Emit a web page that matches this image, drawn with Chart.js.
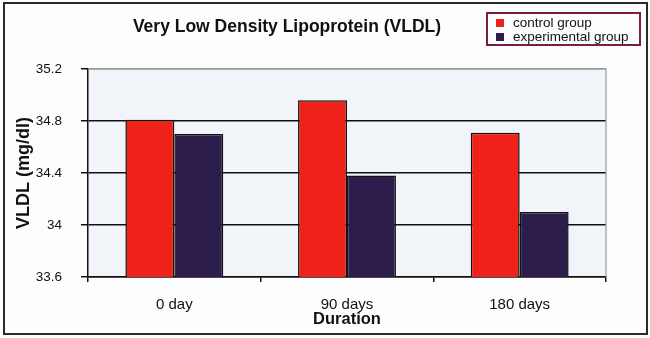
<!DOCTYPE html>
<html>
<head>
<meta charset="utf-8">
<script src="https://cdn.jsdelivr.net/npm/chart.js@4/dist/chart.umd.min.js"></script>
<style>
  html, body { margin: 0; padding: 0; background: #fdfdfd; }
  #wrap { position: relative; width: 650px; height: 338px; font-family: "Liberation Sans", Arial, sans-serif; }
  #chart { position: absolute; left: 0; top: 0; }
  #frame { position: absolute; left: 3px; top: 2px; width: 645px; height: 333px; box-sizing: border-box; border: 2px solid #2a2a2a; pointer-events: none; }
  #title { position: absolute; left: 287px; top: 18px; transform: translateX(-50%); white-space: nowrap; font-weight: bold; font-size: 17.5px; line-height: 1; color: #111; }
  #legend { position: absolute; left: 486px; top: 12px; width: 155px; height: 34px; box-sizing: border-box; border: 2px solid #7a1e45; background: #fdfdfd; }
  .item { position: absolute; left: 8px; font-size: 13.5px; line-height: 1; color: #111; white-space: nowrap; }
  .item span { position: absolute; left: 0; width: 8px; height: 8px; }
  .item b { font-weight: normal; margin-left: 17px; }
</style>
</head>
<body>
<div id="wrap">
  <canvas id="chart" width="650" height="338"></canvas>
  <div id="title">Very Low Density Lipoprotein (VLDL)</div>
  <div id="legend"></div>
  <div id="frame"></div>
</div>
<script>
// DATA
const categories = ['0 day', '90 days', '180 days'];
const seriesNames = ['control group', 'experimental group'];
const controlValues = [34.81, 34.96, 34.71];
const experimentalValues = [34.70, 34.38, 34.10];
const yTicks = [33.6, 34, 34.4, 34.8, 35.2];
const yTickLabels = ['33.6', '34', '34.4', '34.8', '35.2'];

const RED = '#ee2218';
const PURPLE = '#2d1d4c';

// light blue plot background + gray frame on top/right
const plotBackground = {
  id: 'plotBackground',
  beforeDraw(chart) {
    const { ctx, chartArea: a } = chart;
    ctx.save();
    ctx.fillStyle = '#f1f5fa';
    ctx.fillRect(a.left, a.top, a.right - a.left, a.bottom - a.top);
    ctx.restore();
  },
  afterDatasetsDraw(chart) {
    const { ctx, chartArea: a } = chart;
    ctx.save();
    ctx.strokeStyle = '#9a9a9a';
    ctx.lineWidth = 1.2;
    ctx.beginPath();
    ctx.moveTo(a.left, a.top);
    ctx.lineTo(a.right, a.top);
    ctx.lineTo(a.right, a.bottom);
    ctx.stroke();
    ctx.restore();
  }
};

const ctx = document.getElementById('chart').getContext('2d');
const chart = new Chart(ctx, {
  type: 'bar',
  data: {
    labels: categories,
    datasets: [
      {
        label: seriesNames[0],
        data: controlValues,
        backgroundColor: RED,
        borderColor: '#111',
        borderWidth: 1.5,
        borderSkipped: 'bottom'
      },
      {
        label: seriesNames[1],
        data: experimentalValues,
        backgroundColor: PURPLE,
        borderColor: '#111',
        borderWidth: 1.5,
        borderSkipped: 'bottom'
      }
    ]
  },
  options: {
    responsive: false,
    animation: false,
    layout: { padding: { left: 0, right: 44, top: 69, bottom: 0 } },
    datasets: { bar: { barPercentage: 1, categoryPercentage: 0.567 } },
    plugins: {
      legend: { display: false },
      title: { display: false },
      tooltip: { enabled: false }
    },
    scales: {
      x: {
        afterFit: s => { s.height = 338 - 277; },
        grid: { offset: true, drawOnChartArea: false, drawTicks: true, tickLength: 5, color: '#111', lineWidth: 1.5 },
        border: { display: true, color: '#111', width: 1.5 },
        ticks: { color: '#111', padding: 14, font: { family: 'Liberation Sans', size: 15 } },
        title: {
          display: true,
          text: 'Duration',
          color: '#111',
          font: { family: 'Liberation Sans', size: 16.5, weight: 'bold' },
          padding: { top: 0, bottom: 9 }
        }
      },
      y: {
        min: 33.6,
        max: 35.2,
        afterFit: s => { s.width = 88; },
        afterBuildTicks: s => { s.ticks = yTicks.map(v => ({ value: v })); },
        grid: {
          color: c => (c.tick && c.tick.value === 35.2 ? '#9a9a9a' : '#111'),
          tickColor: '#111',
          lineWidth: 1.5,
          tickLength: 7
        },
        border: { display: true, color: '#111', width: 1.5 },
        ticks: {
          color: '#111',
          padding: 19,
          font: { family: 'Liberation Sans', size: 13.5 },
          callback: (v, i) => yTickLabels[i]
        },
        title: {
          display: true,
          text: 'VLDL (mg/dl)',
          color: '#111',
          font: { family: 'Liberation Sans', size: 18, weight: 'bold' },
          padding: { top: 13, bottom: 0 }
        }
      }
    }
  },
  plugins: [plotBackground]
});

// LEGEND built from the datasets
const legend = document.getElementById('legend');
const rowTops = [2, 16];
chart.data.datasets.forEach((ds, i) => {
  const row = document.createElement('div');
  row.className = 'item';
  row.style.top = rowTops[i] + 'px';
  const sw = document.createElement('span');
  sw.style.background = ds.backgroundColor;
  sw.style.top = '3px';
  const txt = document.createElement('b');
  txt.textContent = ds.label;
  row.appendChild(sw);
  row.appendChild(txt);
  legend.appendChild(row);
});
</script>
</body>
</html>
